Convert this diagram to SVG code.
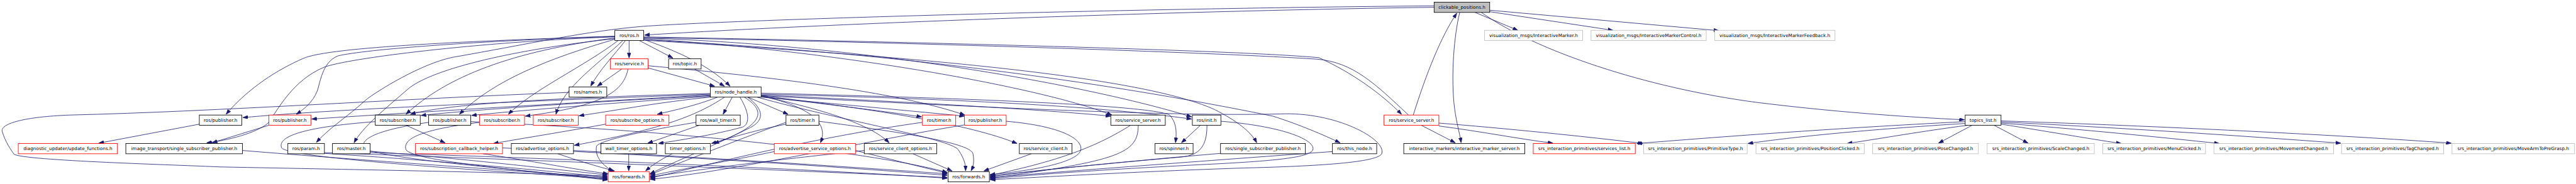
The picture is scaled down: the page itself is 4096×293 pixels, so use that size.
<svg xmlns="http://www.w3.org/2000/svg" width="4096" height="293" viewBox="0 0 4096 293">
<defs>
<style>
.e{fill:none;stroke:#191970;stroke-width:1.4;marker-end:url(#a)}
.nm{fill:none;stroke:#191970;stroke-width:1.4}
rect{fill:#fff;stroke-width:1.5}
.b rect{stroke:#000}
.r rect{stroke:#ff0000}
.g rect{stroke:#bfbfbf}
.root rect{fill:#bfbfbf;stroke:#000}
text{font-family:"DejaVu Sans","Liberation Sans",sans-serif;font-size:12.5px;fill:#000;text-anchor:middle}
</style>
<marker id="a" markerUnits="userSpaceOnUse" markerWidth="14" markerHeight="10" viewBox="0 0 14 10" refX="14" refY="5" orient="auto"><path d="M0,0 L14,5 L0,10 z" fill="#191970" stroke="#191970"/></marker>
</defs>
<rect x="0" y="0" width="4096" height="293" fill="#fff"/>
<g transform="scale(0.58157)">
<g id="edges">
<path class="e" d="M3921,20 C3300,28 2300,62 1762,96"/>
<path class="e" d="M3921,16 C3000,24 2000,55 1760,72 C1600,85 1450,120 1237,157 C1150,175 1030,250 1001,273 C950,320 900,350 865,390"/>
<path class="e" d="M1681,106 C1450,130 1200,180 1120,240 C1050,300 990,350 968,391"/>
<path class="e" d="M1681,99 C1300,112 900,128 829,160 C760,190 680,240 618,313"/>
<path class="e" d="M1681,101 C1300,115 950,160 886,184 C800,220 760,300 733,337 C700,365 620,385 565,391"/>
<path class="e" d="M1681,100 C1300,112 1000,135 924,153 C880,170 875,230 867,250 C855,280 830,300 810,313"/>
<path class="e" d="M1681,104 C1400,140 1220,210 1110,313"/>
<path class="e" d="M1942,256 C1500,268 1220,285 1122,313"/>
<path class="e" d="M1683,107 C1500,160 1350,220 1256,313"/>
<path class="e" d="M1690,111 C1600,180 1450,250 1390,313"/>
<path class="e" d="M1703,111 C1630,180 1540,240 1520,313"/>
<path class="e" d="M1710,111 C1680,150 1640,190 1615,236"/>
<path class="e" d="M1720,111 L1720,159"/>
<path class="e" d="M1700,189 L1633,236"/>
<path class="e" d="M1717,189 C1705,250 1650,290 1436,318"/>
<path class="e" d="M1748,111 L1840,159"/>
<path class="e" d="M1760,108 C1880,150 1950,190 1996,236"/>
<path class="e" d="M1899,189 L1981,236"/>
<path class="e" d="M1772,186 L1954,236"/>
<path class="e" d="M1760,106 C2300,140 2850,240 3040,315"/>
<path class="e" d="M1760,104 C2400,125 3000,240 3258,320"/>
<path class="e" d="M1760,101 C2500,115 3400,138 3606,158 C3700,200 3780,260 3832,313"/>
<path class="nm" d="M3851,315 C3760,230 3700,170 3600,162 C3300,142 2400,114 1760,103"/>
<path class="e" d="M1772,180 C2100,210 2450,250 2638,315"/>
<path class="e" d="M1760,110 C2400,150 3100,200 3321,300 C3380,330 3420,360 3436,391"/>
<path class="e" d="M1760,109 C2400,140 3000,220 3480,318 C3550,340 3620,370 3664,391"/>
<path class="e" d="M2081,255 C2700,270 3150,290 3198,315 C3220,340 3216,370 3214,391"/>
<path class="e" d="M3282,343 L3230,391"/>
<path class="e" d="M3300,343 C3300,400 3280,425 3230,430 C3000,450 2800,470 2707,484"/>
<path class="e" d="M3091,343 C3000,400 2900,440 2707,480"/>
<path class="e" d="M3112,343 C3112,420 3060,440 2707,488"/>
<path class="e" d="M3337,420 C3100,440 2850,465 2707,482"/>
<path class="e" d="M3643,415 C3300,440 2900,470 2707,486"/>
<path class="e" d="M3338,332 C3500,345 3590,380 3590,407 C3590,430 3500,440 3300,450 C3000,465 2800,480 2707,490"/>
<path class="e" d="M2081,262 C2600,290 3200,320 3500,312 C3650,305 3790,380 3778,420 C3770,445 3600,455 3400,460 C3100,470 2850,485 2707,492"/>
<path class="e" d="M1942,258 C1400,278 900,300 664,322"/>
<path class="e" d="M1942,260 C1500,285 1100,310 852,326"/>
<path class="e" d="M1942,262 C1600,280 1300,300 1151,316"/>
<path class="e" d="M1942,264 C1700,280 1450,300 1289,316"/>
<path class="e" d="M1942,266 C1800,280 1700,300 1583,317"/>
<path class="e" d="M1962,266 C1900,290 1850,300 1797,313"/>
<path class="e" d="M2002,266 L1977,313"/>
<path class="e" d="M2045,266 L2155,313"/>
<path class="e" d="M2081,262 C2200,290 2270,330 2243,391"/>
<path class="e" d="M2035,266 C2090,300 2100,340 1952,393"/>
<path class="e" d="M2149,340 C2050,360 1990,380 1945,393"/>
<path class="e" d="M1912,343 L1771,392"/>
<path class="e" d="M2023,266 C2050,310 2050,340 2030,348 C1950,370 1850,385 1800,393"/>
<path class="e" d="M1981,266 C1900,320 1800,355 1570,398"/>
<path class="e" d="M2081,263 C2250,300 2380,340 2431,391"/>
<path class="e" d="M2081,262 C2400,300 2650,340 2781,393"/>
<path class="e" d="M2081,260 C2500,280 2850,300 3037,318"/>
<path class="e" d="M2081,258 C2600,270 3000,290 3258,326"/>
<path class="e" d="M2081,264 C2300,290 2420,305 2520,320"/>
<path class="e" d="M2081,266 C2350,290 2500,305 2637,318"/>
<path class="e" d="M1556,253 C1100,270 600,305 191,315 C60,320 0,340 6,360 C15,390 30,410 38,422 C60,440 500,452 600,457 C1000,465 1400,472 1661,482"/>
<path class="e" d="M2070,266 C2300,330 2600,380 2620,410 C2640,440 2640,455 2640,468"/>
<path class="e" d="M887,420 C1200,440 1500,468 1661,485"/>
<path class="e" d="M1012,414 C1300,438 1500,462 1661,479"/>
<path class="e" d="M1012,418 C1700,440 2300,468 2590,488"/>
<path class="e" d="M1320,421 C1450,440 1560,462 1663,476"/>
<path class="e" d="M1374,405 C1900,430 2300,458 2590,480"/>
<path class="e" d="M1525,421 C1580,440 1630,455 1680,468"/>
<path class="e" d="M1568,412 C1900,430 2300,455 2590,476"/>
<path class="e" d="M1719,421 L1719,468"/>
<path class="e" d="M1838,421 C1800,440 1780,455 1765,468"/>
<path class="e" d="M1110,343 L1217,391"/>
<path class="e" d="M1656,340 C1500,368 1420,380 1349,393"/>
<path class="e" d="M1903,335 C1750,360 1640,385 1631,400 C1625,430 1650,455 1677,469"/>
<path class="e" d="M663,412 C1000,440 1400,466 1661,487"/>
<path class="e" d="M1026,333 C800,350 760,380 770,405 C790,430 1200,460 1661,489"/>
<path class="e" d="M1172,335 C1000,360 980,390 1000,410 C1100,440 1400,462 1661,491"/>
<path class="e" d="M1311,335 C1150,355 1100,380 1110,410 C1130,440 1400,463 1661,493"/>
<path class="e" d="M2117,415 C2000,440 1850,465 1777,482"/>
<path class="e" d="M2363,412 C2100,440 1900,465 1777,485"/>
<path class="e" d="M2149,335 C2050,370 1900,430 1777,478"/>
<path class="e" d="M2522,335 C2200,380 1900,460 1777,488"/>
<path class="e" d="M2637,342 C2400,380 2000,470 1777,491"/>
<path class="e" d="M2044,266 C2090,300 2090,330 2050,350 C1950,400 1850,440 1777,476"/>
<path class="e" d="M2496,421 L2603,468"/>
<path class="e" d="M2820,421 L2690,468"/>
<path class="e" d="M2239,332 C2450,360 2650,390 2660,420 C2665,445 2660,458 2655,468"/>
<path class="e" d="M2751,332 C2900,345 2960,380 2955,410 C2950,440 2850,465 2707,478"/>
<path class="e" d="M2339,412 C2450,440 2530,460 2590,474"/>
<path class="e" d="M1287,333 C1900,360 2400,420 2590,472"/>
<path class="e" d="M887,418 C1500,440 2200,468 2590,486"/>
<path class="e" d="M735,343 L580,391"/>
<path class="e" d="M545,340 L270,392"/>
<path class="e" d="M4033,34 L4150,83"/>
<path class="e" d="M4073,32 L4410,83"/>
<path class="e" d="M4073,28 L4700,84"/>
<path class="e" d="M4050,34 C4200,140 4500,240 4800,280 C5000,305 5200,320 5371,328"/>
<path class="e" d="M3991,34 C3975,100 3968,200 3975,280 C3980,330 3990,360 3995,391"/>
<path class="e" d="M3864,315 C3900,200 3940,100 3983,36"/>
<path class="e" d="M3886,343 L3979,391"/>
<path class="e" d="M3934,345 C4050,360 4150,380 4246,392"/>
<path class="e" d="M3934,337 C4100,350 4350,375 4492,393"/>
<path class="e" d="M5373,333 C5000,352 4700,375 4475,393"/>
<path class="e" d="M5373,338 C5100,355 4900,375 4779,393"/>
<path class="e" d="M5380,343 C5250,360 5150,378 5050,393"/>
<path class="e" d="M5392,343 L5300,392"/>
<path class="e" d="M5452,343 L5545,392"/>
<path class="e" d="M5471,340 C5600,360 5700,378 5800,393"/>
<path class="e" d="M5471,337 C5700,355 5900,375 6068,393"/>
<path class="e" d="M5471,334 C5800,350 6100,370 6400,392"/>
<path class="e" d="M5471,331 C5900,345 6400,370 6702,392"/>
</g>
<g id="n0" class="root"><rect x="3921" y="6" width="152" height="28"/><text x="3997" y="24.5">clickable_positions.h</text></g>
<g id="n1" class="b"><rect x="1681" y="83" width="79" height="28"/><text x="1720.5" y="101.5">ros/ros.h</text></g>
<g id="n2" class="g"><rect x="4059" y="83" width="268" height="28"/><text x="4193" y="101.5">visualization_msgs/InteractiveMarker.h</text></g>
<g id="n3" class="g"><rect x="4350" y="83" width="315" height="28"/><text x="4507.5" y="101.5">visualization_msgs/InteractiveMarkerControl.h</text></g>
<g id="n4" class="g"><rect x="4688" y="83" width="329" height="28"/><text x="4852.5" y="101.5">visualization_msgs/InteractiveMarkerFeedback.h</text></g>
<g id="n5" class="r"><rect x="1669" y="161" width="103" height="28"/><text x="1720.5" y="179.5">ros/service.h</text></g>
<g id="n6" class="b"><rect x="1828" y="161" width="89" height="28"/><text x="1872.5" y="179.5">ros/topic.h</text></g>
<g id="n7" class="b"><rect x="1556" y="238" width="103" height="28"/><text x="1607.5" y="256.5">ros/names.h</text></g>
<g id="n8" class="b"><rect x="1942" y="238" width="139" height="28"/><text x="2011.5" y="256.5">ros/node_handle.h</text></g>
<g id="n9" class="b"><rect x="545" y="315" width="116" height="28"/><text x="603" y="333.5">ros/publisher.h</text></g>
<g id="n10" class="r"><rect x="735" y="315" width="115" height="28"/><text x="792.5" y="333.5">ros/publisher.h</text></g>
<g id="n11" class="b"><rect x="1026" y="315" width="123" height="28"/><text x="1087.5" y="333.5">ros/subscriber.h</text></g>
<g id="n12" class="b"><rect x="1172" y="315" width="115" height="28"/><text x="1229.5" y="333.5">ros/publisher.h</text></g>
<g id="n13" class="r"><rect x="1311" y="315" width="123" height="28"/><text x="1372.5" y="333.5">ros/subscriber.h</text></g>
<g id="n14" class="r"><rect x="1458" y="315" width="123" height="28"/><text x="1519.5" y="333.5">ros/subscriber.h</text></g>
<g id="n15" class="r"><rect x="1656" y="315" width="173" height="28"/><text x="1742.5" y="333.5">ros/subscribe_options.h</text></g>
<g id="n16" class="b"><rect x="1903" y="315" width="121" height="28"/><text x="1963.5" y="333.5">ros/wall_timer.h</text></g>
<g id="n17" class="b"><rect x="2149" y="315" width="90" height="28"/><text x="2194" y="333.5">ros/timer.h</text></g>
<g id="n18" class="r"><rect x="2522" y="315" width="91" height="28"/><text x="2567.5" y="333.5">ros/timer.h</text></g>
<g id="n19" class="r"><rect x="2637" y="315" width="114" height="28"/><text x="2694" y="333.5">ros/publisher.h</text></g>
<g id="n20" class="b"><rect x="3037" y="315" width="149" height="28"/><text x="3111.5" y="333.5">ros/service_server.h</text></g>
<g id="n21" class="b"><rect x="3260" y="315" width="78" height="28"/><text x="3299" y="333.5">ros/init.h</text></g>
<g id="n22" class="r"><rect x="3784" y="315" width="150" height="28"/><text x="3859" y="333.5">ros/service_server.h</text></g>
<g id="n23" class="b"><rect x="5373" y="315" width="98" height="28"/><text x="5422" y="333.5">topics_list.h</text></g>
<g id="n24" class="r"><rect x="50" y="393" width="271" height="28"/><text x="185.5" y="411.5">diagnostic_updater/update_functions.h</text></g>
<g id="n25" class="b"><rect x="344" y="393" width="319" height="28"/><text x="503.5" y="411.5">image_transport/single_subscriber_publisher.h</text></g>
<g id="n26" class="b"><rect x="787" y="393" width="100" height="28"/><text x="837" y="411.5">ros/param.h</text></g>
<g id="n27" class="b"><rect x="909" y="393" width="103" height="28"/><text x="960.5" y="411.5">ros/master.h</text></g>
<g id="n28" class="r"><rect x="1136" y="393" width="238" height="28"/><text x="1255" y="411.5">ros/subscription_callback_helper.h</text></g>
<g id="n29" class="b"><rect x="1398" y="393" width="170" height="28"/><text x="1483" y="411.5">ros/advertise_options.h</text></g>
<g id="n30" class="b"><rect x="1643" y="393" width="152" height="28"/><text x="1719" y="411.5">wall_timer_options.h</text></g>
<g id="n31" class="b"><rect x="1819" y="393" width="123" height="28"/><text x="1880.5" y="411.5">timer_options.h</text></g>
<g id="n32" class="r"><rect x="2117" y="393" width="222" height="28"/><text x="2228" y="411.5">ros/advertise_service_options.h</text></g>
<g id="n33" class="b"><rect x="2363" y="393" width="198" height="28"/><text x="2462" y="411.5">ros/service_client_options.h</text></g>
<g id="n34" class="b"><rect x="2787" y="393" width="144" height="28"/><text x="2859" y="411.5">ros/service_client.h</text></g>
<g id="n35" class="b"><rect x="3158" y="393" width="104" height="28"/><text x="3210" y="411.5">ros/spinner.h</text></g>
<g id="n36" class="b"><rect x="3337" y="393" width="232" height="28"/><text x="3453" y="411.5">ros/single_subscriber_publisher.h</text></g>
<g id="n37" class="b"><rect x="3643" y="393" width="121" height="28"/><text x="3703.5" y="411.5">ros/this_node.h</text></g>
<g id="n38" class="b"><rect x="3838" y="393" width="331" height="28"/><text x="4003.5" y="411.5">interactive_markers/interactive_marker_server.h</text></g>
<g id="n39" class="r"><rect x="4192" y="393" width="279" height="28"/><text x="4331.5" y="411.5">srs_interaction_primitives/services_list.h</text></g>
<g id="n40" class="g"><rect x="4494" y="393" width="283" height="28"/><text x="4635.5" y="411.5">srs_interaction_primitives/PrimitiveType.h</text></g>
<g id="n41" class="g"><rect x="4801" y="393" width="296" height="28"/><text x="4949" y="411.5">srs_interaction_primitives/PositionClicked.h</text></g>
<g id="n42" class="g"><rect x="5120" y="393" width="289" height="28"/><text x="5264.5" y="411.5">srs_interaction_primitives/PoseChanged.h</text></g>
<g id="n43" class="g"><rect x="5433" y="393" width="293" height="28"/><text x="5579.5" y="411.5">srs_interaction_primitives/ScaleChanged.h</text></g>
<g id="n44" class="g"><rect x="5749" y="393" width="281" height="28"/><text x="5889.5" y="411.5">srs_interaction_primitives/MenuClicked.h</text></g>
<g id="n45" class="g"><rect x="6053" y="393" width="327" height="28"/><text x="6216.5" y="411.5">srs_interaction_primitives/MovementChanged.h</text></g>
<g id="n46" class="g"><rect x="6402" y="393" width="279" height="28"/><text x="6541.5" y="411.5">srs_interaction_primitives/TagChanged.h</text></g>
<g id="n47" class="g"><rect x="6704" y="393" width="335" height="28"/><text x="6871.5" y="411.5">srs_interaction_primitives/MoveArmToPreGrasp.h</text></g>
<g id="n48" class="r"><rect x="1663" y="470" width="112" height="28"/><text x="1719" y="488.5">ros/forwards.h</text></g>
<g id="n49" class="b"><rect x="2592" y="470" width="113" height="28"/><text x="2648.5" y="488.5">ros/forwards.h</text></g>
</g>
</svg>
